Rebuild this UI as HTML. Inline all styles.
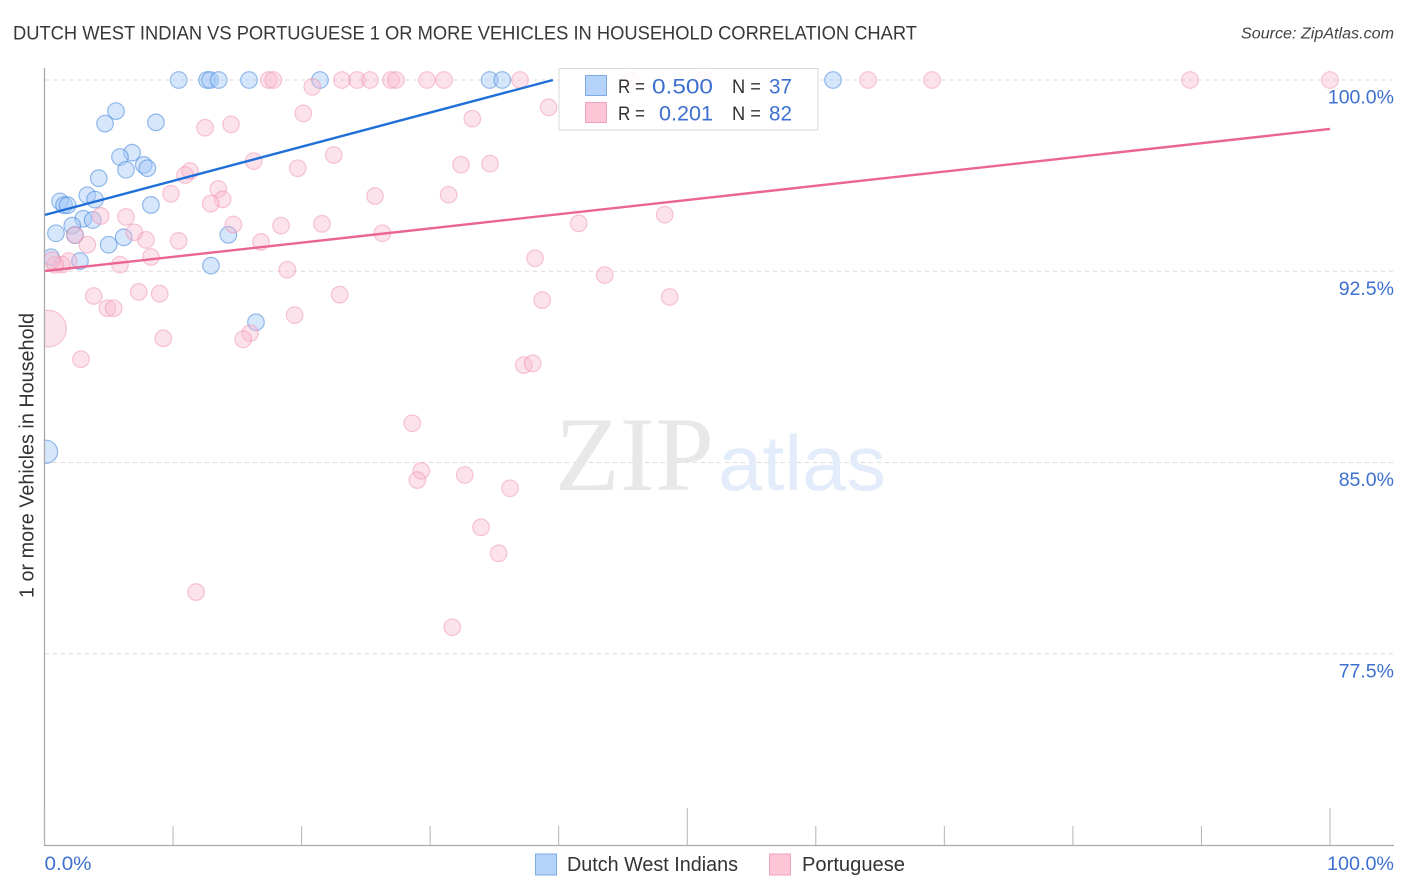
<!DOCTYPE html>
<html lang="en">
<head>
<meta charset="utf-8">
<title>Dutch West Indian vs Portuguese 1 or more Vehicles in Household Correlation Chart</title>
<style>
html,body{margin:0;padding:0;background:#fff;}
svg{display:block;font-family:"Liberation Sans",sans-serif;}
</style>
</head>
<body>
<svg id="chart" width="1406" height="892" viewBox="0 0 1406 892" xmlns="http://www.w3.org/2000/svg">
  <defs>
    <clipPath id="plot-clip"><rect x="45" y="60" width="1349" height="785"/></clipPath>
  </defs>
  <rect width="1406" height="892" fill="#fff"/>
  <text x="13" y="39.5" font-size="19.5" fill="#383838" textLength="904" lengthAdjust="spacingAndGlyphs">DUTCH WEST INDIAN VS PORTUGUESE 1 OR MORE VEHICLES IN HOUSEHOLD CORRELATION CHART</text>
  <text x="1241" y="38.5" font-size="15.5" font-style="italic" fill="#444" textLength="153" lengthAdjust="spacingAndGlyphs">Source: ZipAtlas.com</text>
  <text transform="translate(33.5,598) rotate(-90)" font-size="20" fill="#333" textLength="285" lengthAdjust="spacingAndGlyphs">1 or more Vehicles in Household</text>
  <g id="grid"></g>
  <g>
    <text x="555" y="490" font-family="'Liberation Serif',serif" font-size="106" fill="#e8e8e8" textLength="159" lengthAdjust="spacingAndGlyphs">ZIP</text>
    <text x="718" y="490" font-size="78" fill="#e3ecfa" textLength="168" lengthAdjust="spacingAndGlyphs">atlas</text>
  </g>
  <g id="axes"></g>
  <g id="points" clip-path="url(#plot-clip)"></g>
  <g id="trends"></g>
  <g>
    <rect x="559" y="68.5" width="259" height="61.5" fill="#fff" fill-opacity="0.86" stroke="#d8d8d8" stroke-width="1"/>
    <rect x="585.5" y="75.5" width="21" height="20" fill="#b5d2f8" stroke="#7ea9e2"/>
    <rect x="585.5" y="102.5" width="21" height="20" fill="#fcc6d7" stroke="#eea3bb"/>
    <text x="618" y="93" font-size="19" fill="#333" textLength="27" lengthAdjust="spacingAndGlyphs">R =</text>
    <text x="652" y="93.5" font-size="21" fill="#3d70d0" textLength="61" lengthAdjust="spacingAndGlyphs">0.500</text>
    <text x="732" y="93" font-size="19" fill="#333" textLength="29" lengthAdjust="spacingAndGlyphs">N =</text>
    <text x="769" y="93.5" font-size="21" fill="#3d70d0" textLength="23" lengthAdjust="spacingAndGlyphs">37</text>
    <text x="618" y="120" font-size="19" fill="#333" textLength="27" lengthAdjust="spacingAndGlyphs">R =</text>
    <text x="659" y="120.5" font-size="21" fill="#3d70d0" textLength="54" lengthAdjust="spacingAndGlyphs">0.201</text>
    <text x="732" y="120" font-size="19" fill="#333" textLength="29" lengthAdjust="spacingAndGlyphs">N =</text>
    <text x="769" y="120.5" font-size="21" fill="#3d70d0" textLength="23" lengthAdjust="spacingAndGlyphs">82</text>
  </g>
  <g>
    <rect x="535.5" y="854" width="21" height="21" fill="#b5d2f8" stroke="#7ea9e2"/>
    <text x="567" y="871" font-size="20" fill="#333" textLength="171" lengthAdjust="spacingAndGlyphs">Dutch West Indians</text>
    <rect x="769.5" y="854" width="21" height="21" fill="#fcc6d7" stroke="#eea3bb"/>
    <text x="802" y="871" font-size="20" fill="#333" textLength="103" lengthAdjust="spacingAndGlyphs">Portuguese</text>
  </g>
</svg>
<script>
const xTickValues = [0, 10, 20, 30, 40, 50, 60, 70, 80, 90, 100];
const xEndLabels = ["0.0%", "100.0%"];
const yTickValues = [100, 92.5, 85, 77.5];
const yTickLabels = ["100.0%", "92.5%", "85.0%", "77.5%"];

const blueX = [10.44, 12.64, 12.87, 13.55, 15.91, 21.43, 34.63, 35.61, 61.34, 5.56, 4.71, 8.67, 6.81, 5.87, 6.34, 7.72, 8.00, 4.22, 3.33, 1.21, 1.52, 1.80, 3.93, 8.28, 3.02, 3.75, 2.16, 2.37, 0.89, 6.16, 4.99, 14.30, 0.51, 2.76, 12.95, 16.45, 0.12];
const blueY = [100, 100, 100, 100, 100, 100, 100, 100, 100, 98.78, 98.29, 98.34, 97.15, 96.98, 96.48, 96.67, 96.54, 96.15, 95.48, 95.24, 95.09, 95.09, 95.31, 95.10, 94.56, 94.51, 94.29, 93.92, 93.99, 93.83, 93.54, 93.93, 93.05, 92.90, 92.72, 90.50, 85.42];
const blueWeight = [1, 1, 1, 1, 1, 1, 1, 1, 1, 1, 1, 1, 1, 1, 1, 1, 1, 1, 1, 1, 1, 1, 1, 1, 1, 1, 1, 1, 1, 1, 1, 1, 1, 1, 1, 1, 1.95];

const pinkX = [17.44, 17.80, 23.14, 24.31, 25.32, 26.95, 27.34, 29.75, 31.08, 36.99, 45.55, 51.23, 64.06, 69.04, 89.11, 100, 20.83, 20.13, 14.51, 12.49, 16.27, 22.50, 19.70, 11.32, 10.93, 13.52, 13.86, 12.93, 9.84, 18.40, 21.59, 14.69, 6.34, 4.37, 6.99, 7.90, 10.44, 16.84, 2.37, 3.33, 8.28, 5.87, 1.88, 1.36, 0.82, 0.56, 18.89, 3.83, 7.33, 8.96, 22.96, 4.89, 5.38, 19.46, 15.99, 15.46, 9.24, 2.84, 0.27, 39.22, 33.28, 32.40, 34.66, 25.71, 31.44, 41.56, 48.25, 26.28, 38.16, 43.58, 38.72, 48.63, 37.28, 37.98, 28.61, 29.31, 29.00, 32.69, 36.21, 33.96, 35.33, 31.72, 11.79];
const pinkY = [100, 100, 100, 100, 100, 100, 100, 100, 100, 100, 100, 100, 100, 100, 100, 100, 99.73, 98.69, 98.26, 98.13, 96.82, 97.06, 96.54, 96.43, 96.27, 95.73, 95.32, 95.15, 95.54, 94.29, 94.36, 94.33, 94.63, 94.67, 94.03, 93.73, 93.69, 93.65, 93.92, 93.54, 93.06, 92.76, 92.90, 92.76, 92.75, 92.94, 92.56, 91.53, 91.69, 91.62, 91.58, 91.05, 91.05, 90.78, 90.07, 89.83, 89.87, 89.05, 90.25, 98.93, 98.48, 96.68, 96.72, 95.45, 95.50, 94.38, 94.72, 93.99, 93.01, 92.35, 91.37, 91.49, 88.82, 88.89, 86.54, 84.67, 84.31, 84.51, 83.99, 82.46, 81.44, 78.54, 79.92];
const pinkWeight = [1, 1, 1, 1, 1, 1, 1, 1, 1, 1, 1, 1, 1, 1, 1, 1, 1, 1, 1, 1, 1, 1, 1, 1, 1, 1, 1, 1, 1, 1, 1, 1, 1, 1, 1, 1, 1, 1, 1, 1, 1, 1, 1, 1, 1, 1, 1, 1, 1, 1, 1, 1, 1, 1, 1, 1, 1, 1, 4.9, 1, 1, 1, 1, 1, 1, 1, 1, 1, 1, 1, 1, 1, 1, 1, 1, 1, 1, 1, 1, 1, 1, 1, 1];

const blueTrendX = [0.04, 39.55];
const blueTrendY = [94.71, 100];
const pinkTrendX = [0.04, 100];
const pinkTrendY = [92.51, 98.08];

const SVGNS = 'http://www.w3.org/2000/svg';
function xScale(v) { return 44.5 + v * 12.855; }
function yScale(v) { return 80 + (100 - v) * 25.5; }
function radius(w) { return 8.3 * Math.sqrt(w); }

const gridLayer = document.getElementById('grid');
const axesLayer = document.getElementById('axes');
const pointLayer = document.getElementById('points');
const trendLayer = document.getElementById('trends');

yTickValues.forEach(function (v, i) {
  const line = document.createElementNS(SVGNS, 'line');
  
  
  line.setAttribute('x1', 45);
  line.setAttribute('x2', 1394);
  line.setAttribute('y1', yScale(v));
  line.setAttribute('y2', yScale(v));
  line.setAttribute('stroke', '#dcdcdc');
  line.setAttribute('stroke-width', '1');
  line.setAttribute('stroke-dasharray', '4 4');
  gridLayer.appendChild(line);

  const label = document.createElementNS(SVGNS, 'text');
  
  
  label.setAttribute('x', 1394);
  label.setAttribute('y', yScale(v) + 23.5);
  label.setAttribute('text-anchor', 'end');
  label.setAttribute('font-size', '19.5');
  label.setAttribute('fill', '#3d70d0');
  label.textContent = yTickLabels[i];
  axesLayer.appendChild(label);
});

const yAxis = document.createElementNS(SVGNS, 'line');


yAxis.setAttribute('x1', 44.5);
yAxis.setAttribute('x2', 44.5);
yAxis.setAttribute('y1', 68);
yAxis.setAttribute('y2', 846);
yAxis.setAttribute('stroke', '#aaa');
yAxis.setAttribute('stroke-width', '1.3');
axesLayer.appendChild(yAxis);

const xAxis = document.createElementNS(SVGNS, 'line');


xAxis.setAttribute('x1', 44);
xAxis.setAttribute('x2', 1394);
xAxis.setAttribute('y1', 845.5);
xAxis.setAttribute('y2', 845.5);
xAxis.setAttribute('stroke', '#aaa');
xAxis.setAttribute('stroke-width', '1.3');
axesLayer.appendChild(xAxis);

xTickValues.forEach(function (v) {
  const tick = document.createElementNS(SVGNS, 'line');
  
  
  tick.setAttribute('x1', xScale(v));
  tick.setAttribute('x2', xScale(v));
  tick.setAttribute('y1', v % 50 === 0 ? 808 : 826);
  tick.setAttribute('y2', 845);
  tick.setAttribute('stroke', '#b4b4b4');
  tick.setAttribute('stroke-width', '1');
  axesLayer.appendChild(tick);
});

const xLabelStart = document.createElementNS(SVGNS, 'text');


xLabelStart.setAttribute('x', xScale(xTickValues[0]));
xLabelStart.setAttribute('y', 870);
xLabelStart.setAttribute('font-size', '19.5');
xLabelStart.setAttribute('fill', '#3d70d0');
xLabelStart.setAttribute('textLength', '47');
xLabelStart.setAttribute('lengthAdjust', 'spacingAndGlyphs');
xLabelStart.textContent = xEndLabels[0];
axesLayer.appendChild(xLabelStart);

const xLabelEnd = document.createElementNS(SVGNS, 'text');


xLabelEnd.setAttribute('x', 1327);
xLabelEnd.setAttribute('y', 870);
xLabelEnd.setAttribute('font-size', '19.5');
xLabelEnd.setAttribute('fill', '#3d70d0');
xLabelEnd.setAttribute('textLength', '67');
xLabelEnd.setAttribute('lengthAdjust', 'spacingAndGlyphs');
xLabelEnd.textContent = xEndLabels[1];
axesLayer.appendChild(xLabelEnd);

blueX.forEach(function (v, i) {
  const dot = document.createElementNS(SVGNS, 'circle');
  
  
  dot.setAttribute('cx', xScale(v));
  dot.setAttribute('cy', yScale(blueY[i]));
  dot.setAttribute('r', radius(blueWeight[i]));
  dot.setAttribute('fill', 'rgb(165,200,246)');
  dot.setAttribute('fill-opacity', '0.45');
  dot.setAttribute('stroke', 'rgb(70,135,220)');
  dot.setAttribute('stroke-opacity', '0.55');
  dot.setAttribute('stroke-width', '1.2');
  pointLayer.appendChild(dot);
});

pinkX.forEach(function (v, i) {
  const dot = document.createElementNS(SVGNS, 'circle');
  
  
  dot.setAttribute('cx', xScale(v));
  dot.setAttribute('cy', yScale(pinkY[i]));
  dot.setAttribute('r', radius(pinkWeight[i]));
  dot.setAttribute('fill', 'rgb(248,185,205)');
  dot.setAttribute('fill-opacity', '0.42');
  dot.setAttribute('stroke', 'rgb(238,135,170)');
  dot.setAttribute('stroke-opacity', '0.45');
  dot.setAttribute('stroke-width', '1.2');
  pointLayer.appendChild(dot);
});

const blueTrend = document.createElementNS(SVGNS, 'line');


blueTrend.setAttribute('x1', xScale(blueTrendX[0]));
blueTrend.setAttribute('y1', yScale(blueTrendY[0]));
blueTrend.setAttribute('x2', xScale(blueTrendX[1]));
blueTrend.setAttribute('y2', yScale(blueTrendY[1]));
blueTrend.setAttribute('stroke', '#1f6fd8');
blueTrend.setAttribute('stroke-width', '2.4');
trendLayer.appendChild(blueTrend);

const pinkTrend = document.createElementNS(SVGNS, 'line');


pinkTrend.setAttribute('x1', xScale(pinkTrendX[0]));
pinkTrend.setAttribute('y1', yScale(pinkTrendY[0]));
pinkTrend.setAttribute('x2', xScale(pinkTrendX[1]));
pinkTrend.setAttribute('y2', yScale(pinkTrendY[1]));
pinkTrend.setAttribute('stroke', '#ea6596');
pinkTrend.setAttribute('stroke-width', '2.4');
trendLayer.appendChild(pinkTrend);
</script>
</body>
</html>
